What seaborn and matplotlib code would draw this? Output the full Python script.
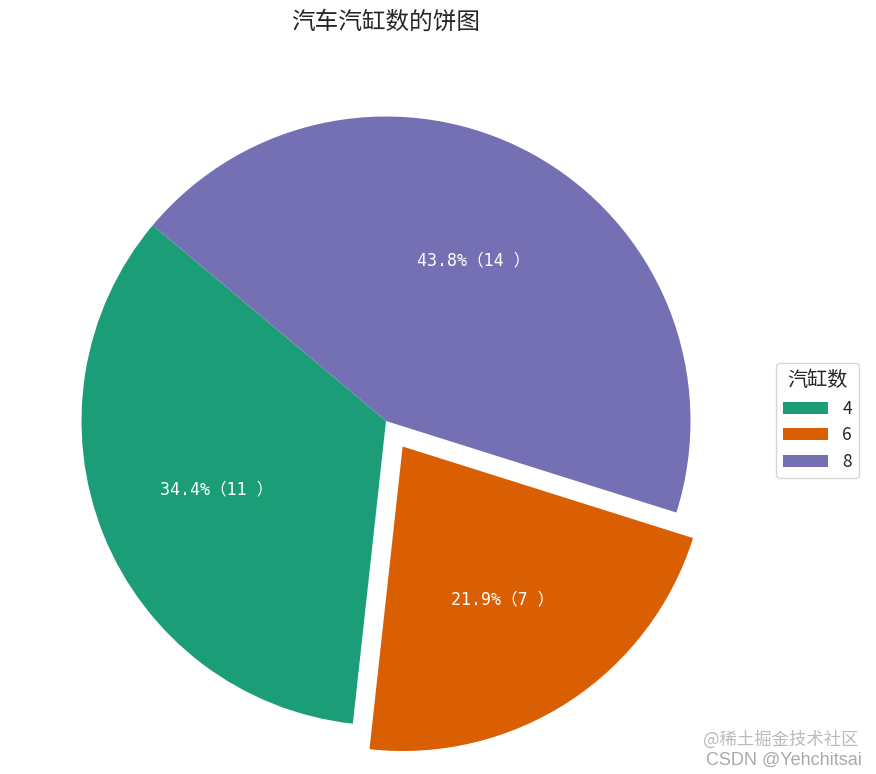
import matplotlib
matplotlib.use('Agg')
import matplotlib.pyplot as plt
import seaborn as sns

# data
cyl_labels = ['4', '6', '8']
cyl_counts = [11, 7, 14]
explode = [0, 0.1, 0]

sns.set_style('white')
plt.rcParams['font.family'] = ['Noto Sans CJK SC', 'DejaVu Sans']
plt.rcParams['axes.unicode_minus'] = False

colors = sns.color_palette('Dark2', len(cyl_counts))
total = sum(cyl_counts)

W, H = 876, 774
cx, cy, r = 386, 421, 304.5  # pixel centre / radius of the pie

fig = plt.figure(figsize=(W / 100, H / 100), dpi=100)
ax = fig.add_axes([0, 0, 1, 1])

wedges, texts, autotexts = ax.pie(
    cyl_counts, explode=explode, colors=colors, startangle=140,
    autopct=lambda p: f'{p:.1f}%（{round(p * total / 100):d} ）',
    pctdistance=0.6, wedgeprops={'linewidth': 0},
    textprops={'color': 'white', 'fontsize': 12,
               'family': ['DejaVu Sans Mono', 'Noto Sans CJK SC']})

ax.set_xlim(-cx / r, (W - cx) / r)
ax.set_ylim(-(H - cy) / r, cy / r)
ax.set_aspect('equal')
ax.axis('off')

fig.text(386 / W, 1 - 22 / H, '汽车汽缸数的饼图', ha='center', va='center', fontsize=17)

leg = ax.legend(wedges, cyl_labels, title='汽缸数', loc='center',
                bbox_to_anchor=(817.5 / W, 1 - 420.5 / H), bbox_transform=fig.transFigure,
                fontsize=12.5, title_fontsize=14.5, handlelength=2.6)

# watermark
fig.text(858 / W, 1 - 740 / H, '@稀土掘金技术社区', ha='right', va='center',
         fontsize=12.5, color='#bbbbbb')
fig.text(862 / W, 1 - 760 / H, 'CSDN @Yehchitsai', ha='right', va='center',
         fontsize=13, color='#aaaaaa', family=['Liberation Sans', 'DejaVu Sans'])

fig.savefig('out.png', dpi=100)
